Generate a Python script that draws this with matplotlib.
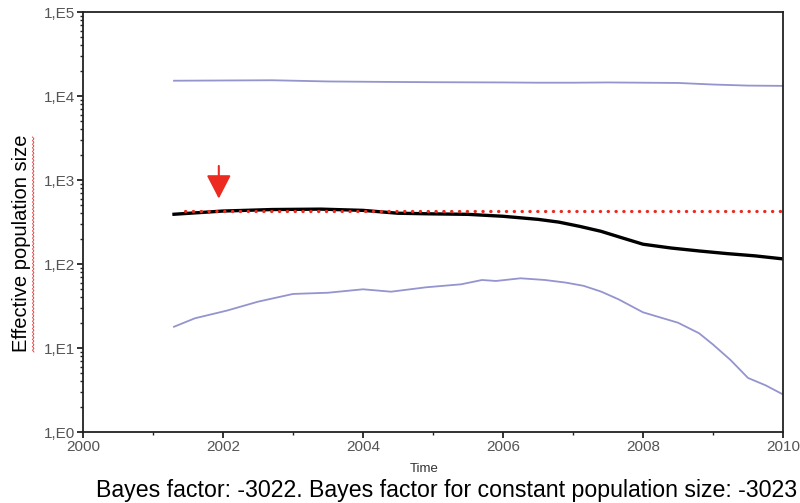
import numpy as np
import matplotlib.pyplot as plt
from matplotlib.ticker import LogLocator, FixedLocator, NullFormatter

plt.rcParams['font.family'] = ['Liberation Sans', 'DejaVu Sans']

# 中位数曲线（黑线）
years_med = [2001.3, 2002.0, 2002.7, 2003.4, 2004.0, 2004.5, 2005.0, 2005.5, 2006.0,
             2006.5, 2006.8, 2007.1, 2007.4, 2007.7, 2008.0, 2008.4, 2008.8, 2009.2,
             2009.6, 2010.0]
median_ne = [391, 427, 445, 450, 435, 402, 395, 390, 370,
             340, 315, 280, 245, 205, 172, 155, 143, 133,
             125, 115]

# 上界（95% HPD）
years_up = [2001.3, 2002.0, 2002.7, 2003.5, 2004.4, 2005.0, 2006.0, 2006.5, 2007.0,
            2007.5, 2008.0, 2008.5, 2009.0, 2009.5, 2010.0]
upper_ne = [15200, 15300, 15400, 14900, 14700, 14600, 14500, 14400, 14400,
            14500, 14400, 14300, 13700, 13300, 13200]

# 下界
years_lo = [2001.3, 2001.6, 2002.05, 2002.5, 2003.0, 2003.5, 2004.0, 2004.4, 2004.9,
            2005.4, 2005.7, 2005.9, 2006.25, 2006.6, 2006.9, 2007.15, 2007.4, 2007.65,
            2008.0, 2008.5, 2008.8, 2009.0, 2009.25, 2009.5, 2009.75, 2010.0]
lower_ne = [17.9, 22.6, 27.8, 35.6, 44, 45.5, 50, 46.8, 52.8,
            57.3, 64.5, 62.8, 67.6, 64.5, 60, 55, 47, 38,
            26.6, 20, 15, 11, 7.2, 4.4, 3.6, 2.8]

# 常数种群大小（红色虚线）
const_years = [2001.45, 2010.0]
const_ne = 431

arrow_x = 2001.94
arrow_top, arrow_tip = 1470, 600

ytick_vals = [1, 10, 100, 1000, 10000, 100000]
ytick_labels = ['1,E0', '1,E1', '1,E2', '1,E3', '1,E4', '1,E5']
xtick_vals = [2000, 2002, 2004, 2006, 2008, 2010]

fig = plt.figure(figsize=(8, 5.03), dpi=100)
ax = fig.add_axes([83 / 800, 1 - 432 / 503, 700 / 800, 420 / 503])

ax.plot(years_up, upper_ne, color='#9494cf', lw=1.3)
ax.plot(years_lo, lower_ne, color='#9494cf', lw=1.3)
ax.plot(years_med, median_ne, color='black', lw=2.4)
ax.plot(const_years, [const_ne, const_ne], color='#ec2a20', lw=2.3,
        linestyle=(0, (0.1, 2.35)), dash_capstyle='round')
ax.annotate('', xy=(arrow_x, arrow_tip), xytext=(arrow_x, arrow_top),
            arrowprops=dict(arrowstyle='-|>,head_width=0.75,head_length=1.45',
                            color='#ec2a20', lw=1.5, shrinkA=0, shrinkB=0))

ax.set_yscale('log')
ax.set_ylim(1, 100000)
ax.set_xlim(2000, 2010)
ax.set_yticks(ytick_vals)
ax.set_yticklabels(ytick_labels)
ax.yaxis.set_minor_locator(LogLocator(base=10, subs=np.arange(2, 10)))
ax.yaxis.set_minor_formatter(NullFormatter())
ax.set_xticks(xtick_vals)
ax.xaxis.set_minor_locator(FixedLocator([2001, 2003, 2005, 2007, 2009]))

for s in ax.spines.values():
    s.set_linewidth(1.3)
    s.set_color('#222222')
ax.tick_params(which='major', direction='out', length=4, width=1.3,
               labelsize=11, labelcolor='#555555', color='#222222', pad=2)
ax.tick_params(which='minor', direction='out', length=2, width=1.0, color='#222222')

ax.set_ylabel('Effective population size', fontsize=14.5)
ax.yaxis.set_label_coords(-0.0743, 0.449)
ax.set_xlabel('Time', fontsize=9.5, color='#333333', va='center')
ax.xaxis.set_label_coords(0.488, -0.087)

# 拼写检查的红色波浪线
yy = np.linspace(137 / 503, 352 / 503, 120)
xx = 32.5 / 800 + 0.0018 * (np.arange(120) % 2)
fig.add_artist(plt.Line2D(xx, 1 - yy, color='#e03030', lw=0.6, transform=fig.transFigure))

fig.text(797 / 800, 1 - 491 / 503,
         'Bayes factor: -3022. Bayes factor for constant population size: -3023',
         ha='right', va='center', fontsize=16.7)

fig.savefig('out.png', dpi=100)
